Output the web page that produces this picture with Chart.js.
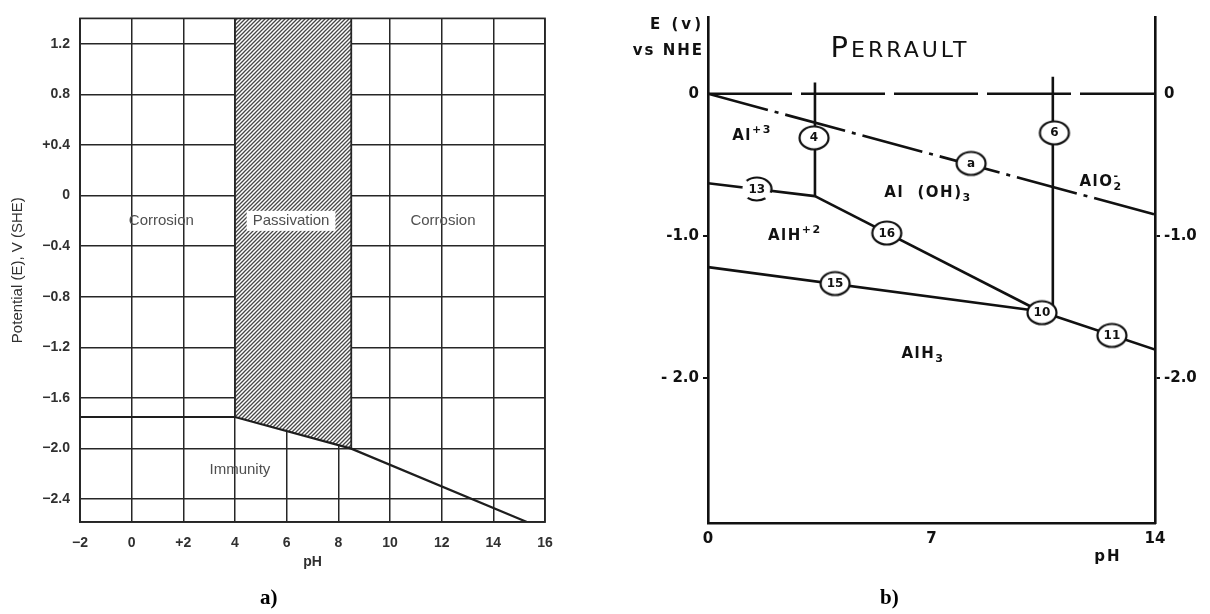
<!DOCTYPE html>
<html>
<head>
<meta charset="utf-8">
<script src="https://cdn.jsdelivr.net/npm/chart.js@4.4.1/dist/chart.umd.min.js"></script>
<style>
  html, body { margin: 0; padding: 0; background: #fff; width: 1210px; height: 614px; overflow: hidden; }
  .pane { position: absolute; top: 0; width: 605px; height: 614px; }
  #paneA { left: 0; }
  #paneB { left: 605px; }
  #chartA { filter: blur(0.4px); }
  .cap { position: absolute; font: bold 21px "Liberation Serif", "Times New Roman", serif; color: #000; line-height: 24px; }
</style>
</head>
<body>
<div class="pane" id="paneA"><canvas id="chartA" width="605" height="614" style="width:605px;height:614px"></canvas></div>
<div class="pane" id="paneB"><canvas id="chartB" width="605" height="614" style="width:605px;height:614px"></canvas></div>
<div class="cap" style="left:260px;top:585px">a)</div>
<div class="cap" style="left:880px;top:585px">b)</div>

<script>
// ---------- Diagram a): generic corrosion / passivation / immunity map ----------
const phTicksA = [-2, 0, 2, 4, 6, 8, 10, 12, 14, 16];
const phTickLabelsA = ['−2', '0', '+2', '4', '6', '8', '10', '12', '14', '16'];
const eTicksA = [1.2, 0.8, 0.4, 0, -0.4, -0.8, -1.2, -1.6, -2.0, -2.4];
const eTickLabelsA = ['1.2', '0.8', '+0.4', '0', '−0.4', '−0.8', '−1.2', '−1.6', '−2.0', '−2.4'];

// immunity boundary (lower edge of the corrosion / passivation fields)
const immunityPH = [-2, 4, 8.5, 15.3];
const immunityE = [-1.75, -1.75, -2.0, -2.58];

// passivation band
const passivationPH = [4, 8.5];
const passivationTopE = [1.4, 1.4];
const passivationBottomE = [-1.75, -2.0];

// field names
const regionNamesA = ['Corrosion', 'Passivation', 'Corrosion', 'Immunity'];
const regionPHA = [1.15, 6.17, 12.05, 4.19];
const regionEA = [-0.2, -0.2, -0.2, -2.17];

// ---------- Diagram b): Al–H2O system after Perrault ----------
const phTicksB = [0, 7, 14];
const phTickLabelsB = ['0', '7', '14'];
const eTicksB = [0, -1, -2];
const eTickLabelsLeftB = ['0', '-1.0', '- 2.0'];
const eTickLabelsRightB = ['0', '-1.0', '-2.0'];

const zeroLinePH = [0, 14];
const zeroLineE = [0, 0];
const lineA_PH = [0, 14];
const lineA_E = [0, -0.85];
const line4_PH = [3.35, 3.35];
const line4_E = [0.08, -0.72];
const line6_PH = [10.8, 10.8];
const line6_E = [0.12, -1.5];
const line13_PH = [0, 3.35];
const line13_E = [-0.63, -0.72];
const line16_PH = [3.35, 10.4];
const line16_E = [-0.72, -1.53];
const line15_PH = [0, 10.4];
const line15_E = [-1.22, -1.53];
const line11_PH = [10.4, 14];
const line11_E = [-1.53, -1.80];

// numbered equilibrium markers
const markerNames = ['4', '6', 'a', '13', '16', '15', '10', '11'];
const markerPH = [3.32, 10.85, 8.24, 1.53, 5.6, 3.98, 10.46, 12.65];
const markerE = [-0.31, -0.275, -0.49, -0.67, -0.98, -1.335, -1.54, -1.70];

// species fields  (^{..} superscript, _{..} subscript)
const speciesNames = ['Al^{+3}', 'Al  (OH)_{3}', 'AlH^{+2}', 'AlO_{2}^{-}', 'AlH_{3}'];
const speciesPH = [1.38, 6.89, 2.72, 12.31, 6.73];
const speciesE = [-0.29, -0.69, -0.99, -0.61, -1.82];

// ---------- helpers ----------
const pts = (xs, ys) => xs.map((x, i) => ({ x: x, y: ys[i] }));

function makeHatch() {
  const s = 4;
  const c = document.createElement('canvas');
  c.width = s; c.height = s;
  const g = c.getContext('2d');
  g.fillStyle = '#fff';
  g.fillRect(0, 0, s, s);
  g.strokeStyle = '#474747';
  g.lineWidth = 1.3;
  g.beginPath();
  g.moveTo(0, s); g.lineTo(s, 0);
  g.moveTo(-1, 1); g.lineTo(1, -1);
  g.moveTo(s - 1, s + 1); g.lineTo(s + 1, s - 1);
  g.stroke();
  return g.createPattern(c, 'repeat');
}

function ringImage(partial) {
  const c = document.createElement('canvas');
  c.width = 34; c.height = 28;
  const g = c.getContext('2d');
  g.fillStyle = '#fff';
  g.beginPath(); g.ellipse(17, 14, 14.5, 11.5, 0, 0, Math.PI * 2); g.fill();
  g.strokeStyle = '#111';
  g.lineWidth = 2.2;
  if (!partial) {
    g.beginPath(); g.ellipse(17, 14, 14.5, 11.5, 0, 0, Math.PI * 2); g.stroke();
  } else {
    g.beginPath(); g.ellipse(17, 14, 14.5, 11.5, 0, -Math.PI * 0.75, Math.PI * 0.1); g.stroke();
    g.beginPath(); g.ellipse(17, 14, 14.5, 11.5, 0, Math.PI * 0.3, Math.PI * 0.72); g.stroke();
  }
  return c;
}

// draws text with ^{} / _{} scripts centred on (cx, cy)
function drawRich(ctx, str, cx, cy, size, spacing) {
  const segs = [];
  const re = /([\^_])\{([^}]*)\}|([^\^_]+)/g;
  let m;
  while ((m = re.exec(str))) {
    if (m[3]) segs.push({ t: m[3], k: 'n' });
    else segs.push({ t: m[2], k: m[1] === '^' ? 'sup' : 'sub' });
  }
  const big = 'bold ' + size + 'px "DejaVu Sans"';
  const small = 'bold ' + Math.round(size * 0.72) + 'px "DejaVu Sans"';
  ctx.letterSpacing = spacing + 'px';
  let w = 0, prevStart = 0;
  const items = [];
  segs.forEach((s, i) => {
    ctx.font = s.k === 'n' ? big : small;
    const sw = ctx.measureText(s.t).width;
    if (s.k === 'sup' && i > 0 && segs[i - 1].k === 'sub') {
      items.push({ s: s, x: prevStart });
      w = Math.max(w, prevStart + sw);
    } else {
      items.push({ s: s, x: w });
      prevStart = w;
      w += sw;
    }
  });
  const base = cy + size * 0.36;
  const x0 = cx - w / 2;
  ctx.textAlign = 'left';
  ctx.textBaseline = 'alphabetic';
  items.forEach(it => {
    ctx.font = it.s.k === 'n' ? big : small;
    let y = base;
    if (it.s.k === 'sup') y = base - size * 0.48;
    if (it.s.k === 'sub') y = base + size * 0.28;
    ctx.fillText(it.s.t, x0 + it.x, y);
  });
  ctx.letterSpacing = '0px';
}

Chart.defaults.font.family = '"Liberation Sans", Arial, sans-serif';

// ---------- chart a ----------
const tickFontA = { family: '"Liberation Sans", Arial, sans-serif', size: 14, weight: 'bold' };
const gridInk = '#262626';

const fieldLabelsA = {
  id: 'fieldLabelsA',
  afterDatasetsDraw(chart) {
    const { ctx, chartArea: a, scales: { x, y } } = chart;
    ctx.save();
    // frame
    ctx.strokeStyle = gridInk;
    ctx.lineWidth = 1.7;
    ctx.strokeRect(a.left, a.top, a.right - a.left, a.bottom - a.top);
    ctx.font = '15px "Liberation Sans", Arial, sans-serif';
    ctx.textAlign = 'center';
    ctx.textBaseline = 'middle';
    regionNamesA.forEach((name, i) => {
      const px = x.getPixelForValue(regionPHA[i]);
      const py = y.getPixelForValue(regionEA[i]);
      if (name === 'Passivation') {
        const w = ctx.measureText(name).width;
        ctx.fillStyle = '#fff';
        ctx.fillRect(px - w / 2 - 6, py - 10, w + 12, 20);
      }
      ctx.fillStyle = '#4f4f4f';
      ctx.fillText(name, px, py);
    });
    ctx.restore();
  }
};

new Chart(document.getElementById('chartA'), {
  type: 'line',
  data: {
    datasets: [
      { data: pts(passivationPH, passivationTopE), fill: '+1', backgroundColor: makeHatch(),
        borderWidth: 0, pointRadius: 0, order: 5 },
      { data: pts(passivationPH, passivationBottomE), fill: false, borderWidth: 0, pointRadius: 0, order: 6 },
      { data: pts([passivationPH[0], passivationPH[0]], [passivationTopE[0], passivationBottomE[0]]),
        borderColor: gridInk, borderWidth: 1.8, pointRadius: 0, fill: false, order: 2 },
      { data: pts([passivationPH[1], passivationPH[1]], [passivationTopE[1], passivationBottomE[1]]),
        borderColor: gridInk, borderWidth: 1.8, pointRadius: 0, fill: false, order: 2 },
      { data: pts(immunityPH, immunityE), borderColor: '#1e1e1e', borderWidth: 2.2, pointRadius: 0,
        fill: false, order: 1 }
    ]
  },
  options: {
    responsive: false,
    animation: false,
    events: [],
    layout: { padding: { left: 0, top: 8, right: 60, bottom: 0 } },
    plugins: { legend: { display: false }, tooltip: { enabled: false } },
    scales: {
      x: {
        type: 'linear', min: -2, max: 16,
        afterBuildTicks: s => { s.ticks = phTicksA.map(v => ({ value: v })); },
        afterFit: s => { s.height = 92; },
        ticks: { callback: (v, i) => phTickLabelsA[i], font: tickFontA, color: '#303030', padding: 13,
                 maxRotation: 0, autoSkip: false },
        grid: { color: gridInk, lineWidth: 1.5, drawTicks: false },
        border: { display: true, color: gridInk, width: 1.7 },
        title: { display: true, text: 'pH', color: '#303030',
                 font: { family: '"Liberation Sans", Arial, sans-serif', size: 14, weight: 'bold' },
                 padding: { top: 0, bottom: 43 } }
      },
      y: {
        type: 'linear', min: -2.58, max: 1.4,
        afterBuildTicks: s => { s.ticks = eTicksA.map(v => ({ value: v })); },
        afterFit: s => { s.width = 80; },
        ticks: { callback: (v, i) => eTickLabelsA[i], font: tickFontA, color: '#303030', padding: 10,
                 autoSkip: false },
        grid: { color: gridInk, lineWidth: 1.5, drawTicks: false },
        border: { display: true, color: gridInk, width: 1.7 },
        title: { display: true, text: 'Potential (E), V (SHE)', color: '#303030',
                 font: { family: '"Liberation Sans", Arial, sans-serif', size: 15 },
                 padding: { top: 9, bottom: 0 } }
      }
    }
  },
  plugins: [fieldLabelsA]
});

// ---------- chart b ----------
const tickFontB = { family: '"DejaVu Sans", sans-serif', size: 15, weight: 'bold' };
const ring = ringImage(false);
const brokenRing = ringImage(true);
const lineStyle = { borderColor: '#111', borderWidth: 2.6, pointRadius: 0, fill: false, order: 2,
                    borderCapStyle: 'butt' };

const annotationsB = {
  id: 'annotationsB',
  afterDatasetsDraw(chart) {
    const { ctx, chartArea: a, scales: { x, y } } = chart;
    ctx.save();
    ctx.fillStyle = '#111';

    // marker numbers
    const meta = chart.getDatasetMeta(chart.data.datasets.length - 1);
    ctx.font = 'bold 12px "DejaVu Sans", sans-serif';
    ctx.textAlign = 'center';
    ctx.textBaseline = 'middle';
    meta.data.forEach((pt, i) => ctx.fillText(markerNames[i], pt.x, pt.y + 0.5));

    // species fields
    speciesNames.forEach((s, i) => {
      drawRich(ctx, s, x.getPixelForValue(speciesPH[i]), y.getPixelForValue(speciesE[i]), 15, 1.5);
    });

    // axis captions
    ctx.font = 'bold 15px "DejaVu Sans", sans-serif';
    ctx.letterSpacing = '3px';
    ctx.textAlign = 'right';
    ctx.textBaseline = 'middle';
    ctx.fillText('E (v)', a.left - 4, 25);
    ctx.letterSpacing = '2px';
    ctx.fillText('vs NHE', a.left - 4, 51);
    ctx.textAlign = 'center';
    ctx.fillText('pH', 503, 557);

    // author heading in small capitals
    ctx.textBaseline = 'alphabetic';
    ctx.letterSpacing = '3px';
    ctx.font = '29px "DejaVu Sans", sans-serif';
    const wP = ctx.measureText('P').width;
    ctx.font = '22px "DejaVu Sans", sans-serif';
    const wR = ctx.measureText('ERRAULT').width;
    const start = 295 - (wP + wR) / 2;
    ctx.font = '29px "DejaVu Sans", sans-serif';
    ctx.textAlign = 'left';
    ctx.fillText('P', start, 57);
    ctx.font = '22px "DejaVu Sans", sans-serif';
    ctx.fillText('ERRAULT', start + wP, 57);
    ctx.restore();
  }
};

const yCommonB = {
  type: 'linear', min: -3.02, max: 0.54,
  afterBuildTicks: s => { s.ticks = eTicksB.map(v => ({ value: v })); },
  grid: { display: true, drawOnChartArea: false, drawTicks: true, tickLength: 5, lineWidth: 2,
          color: c => (c.tick && c.tick.value === 0) ? 'rgba(0,0,0,0)' : '#111' },
  border: { display: true, color: '#111', width: 2.6 }
};

new Chart(document.getElementById('chartB'), {
  type: 'line',
  data: {
    datasets: [
      Object.assign({ data: pts(zeroLinePH, zeroLineE), borderDash: [84, 9] }, lineStyle),
      Object.assign({ data: pts(lineA_PH, lineA_E), borderDash: [62, 7, 4, 7] }, lineStyle),
      Object.assign({ data: pts(line4_PH, line4_E) }, lineStyle),
      Object.assign({ data: pts(line6_PH, line6_E) }, lineStyle),
      Object.assign({ data: pts(line13_PH, line13_E) }, lineStyle),
      Object.assign({ data: pts(line16_PH, line16_E) }, lineStyle),
      Object.assign({ data: pts(line15_PH, line15_E) }, lineStyle),
      Object.assign({ data: pts(line11_PH, line11_E) }, lineStyle),
      { data: pts(markerPH, markerE), showLine: false, order: 0,
        pointStyle: markerNames.map(n => n === '13' ? brokenRing : ring),
        pointRadius: 14 }
    ]
  },
  options: {
    responsive: false,
    animation: false,
    events: [],
    layout: { padding: { left: 0, top: 17, right: 0, bottom: 0 } },
    plugins: { legend: { display: false }, tooltip: { enabled: false } },
    scales: {
      x: {
        type: 'linear', min: 0, max: 14,
        afterBuildTicks: s => { s.ticks = phTicksB.map(v => ({ value: v })); },
        afterFit: s => { s.height = 91; },
        ticks: { callback: (v, i) => phTickLabelsB[i], font: tickFontB, color: '#111', padding: 7,
                 maxRotation: 0, autoSkip: false },
        grid: { display: false, drawTicks: false },
        border: { display: true, color: '#111', width: 2.6 }
      },
      y: Object.assign({}, yCommonB, {
        position: 'left',
        afterFit: s => { s.width = 103; },
        ticks: { callback: (v, i) => eTickLabelsLeftB[i], font: tickFontB, color: '#111', padding: 4,
                 autoSkip: false }
      }),
      y2: Object.assign({}, yCommonB, {
        position: 'right',
        afterFit: s => { s.width = 55; },
        ticks: { callback: (v, i) => eTickLabelsRightB[i], font: tickFontB, color: '#111', padding: 4,
                 autoSkip: false }
      })
    }
  },
  plugins: [annotationsB]
});
</script>
</body>
</html>
